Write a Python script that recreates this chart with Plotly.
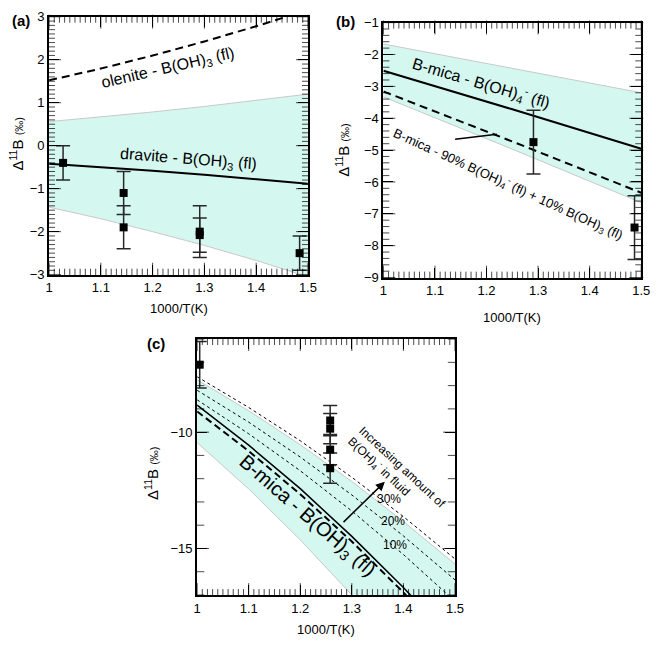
import plotly.graph_objects as go

# ---------------- data ----------------
x_grid = [1.0, 1.1, 1.2, 1.3, 1.4, 1.5]

# panel (a)
a_band_upper = [0.56, 0.67, 0.785, 0.913, 1.05, 1.2]
a_band_lower = [-1.43, -1.70, -2.0, -2.32, -2.67, -3.05]
a_dravite = [-0.42, -0.498, -0.584, -0.677, -0.778, -0.886]
a_olenite = [1.52, 1.795, 2.097, 2.425, 2.779, 3.159]
a_pts_x = [1.027, 1.144, 1.144, 1.291, 1.291, 1.484]
a_pts_y = [-0.4, -1.1, -1.9, -2.0, -2.08, -2.5]
a_pts_err = [0.4, 0.5, 0.5, 0.6, 0.4, 0.4]

# panel (b)
b_grid = [1.0, 1.25, 1.5]
b_band_upper = [-1.67, -2.43, -3.2]
b_band_lower = [-3.33, -4.97, -6.65]
b_solid = [-2.51, -3.72, -4.96]
b_dashed = [-3.16, -4.73, -6.34]
b_pts_x = [1.291, 1.487]
b_pts_y = [-4.75, -7.43]
b_pts_err = [1.0, 1.0]

# panel (c)
c_band_upper = [-7.75, -9.08, -10.54, -12.12, -13.84, -15.67]
c_band_lower = [-10.45, -12.44, -14.63, -17.0, -19.56, -22.31]
c_solid = [-8.84, -10.56, -12.43, -14.48, -16.68, -19.05]
c_dashed = [-9.11, -10.81, -12.67, -14.70, -16.89, -19.24]
c_10 = [-8.61, -10.07, -11.66, -13.39, -15.26, -17.27]
c_20 = [-8.2, -9.57, -11.07, -12.70, -14.46, -16.35]
c_30 = [-7.62, -8.94, -10.37, -11.94, -13.63, -15.45]
c_pts_x = [1.005, 1.258, 1.258, 1.258, 1.258]
c_pts_y = [-7.1, -9.5, -9.85, -10.75, -11.55]
c_pts_err = [1.0, 0.65, 0.65, 0.65, 0.65]

# ---------------- styling ----------------
W, H = 662, 645
FONT = "Liberation Sans, Arial, sans-serif"
FILL = "rgba(212,247,239,1)"
EDGE = "rgb(200,200,200)"

# subplot frames in pixels (left, right, top, bottom)
A_PX = (46, 310, 10, 274)
B_PX = (387, 650, 16, 277)
C_PX = (197, 460, 340, 602)
X_RANGE = [1.0, 1.5]
A_YR = [-3, 3]
B_YR = [-9, -1]
C_YR = [-17, -6]


def px(x):
    return x / W


def py(y):
    return 1 - y / H


fig = go.Figure()


def band(xs, lo, up, xa, ya):
    fig.add_trace(go.Scatter(x=xs, y=lo, mode="lines", line=dict(color=EDGE, width=1),
                             xaxis=xa, yaxis=ya, showlegend=False, hoverinfo="skip"))
    fig.add_trace(go.Scatter(x=xs, y=up, mode="lines", line=dict(color=EDGE, width=1),
                             fill="tonexty", fillcolor=FILL,
                             xaxis=xa, yaxis=ya, showlegend=False, hoverinfo="skip"))


def line(xs, ys, xa, ya, dash="solid", width=2):
    fig.add_trace(go.Scatter(x=xs, y=ys, mode="lines", line=dict(color="black", width=width, dash=dash),
                             xaxis=xa, yaxis=ya, showlegend=False, hoverinfo="skip"))


def points(xs, ys, errs, xa, ya):
    fig.add_trace(go.Scatter(x=xs, y=ys, mode="markers",
                             marker=dict(symbol="square", size=8, color="black"),
                             error_y=dict(type="data", array=errs, visible=True, color="rgb(40,40,40)",
                                          thickness=1.5, width=7),
                             xaxis=xa, yaxis=ya, showlegend=False, cliponaxis=False))


def steps(lo, hi, step):
    n = int(round((hi - lo) / step))
    return [lo + i * step for i in range(n + 1)]


def is_mult(v, m):
    q = v / m
    return abs(q - round(q)) < 1e-6


def tick_markers(xa, ya, frame, xr, yr, xminor, xmajor, yminor, ymajor, ymin_len=5):
    """Inside tick marks on all four sides, drawn as line markers (lengths in pixels)."""
    l, r, t, b = frame
    ux = (xr[1] - xr[0]) / (r - l)
    uy = (yr[1] - yr[0]) / (b - t)
    vx, vy, vs = [], [], []
    for v in steps(xr[0], xr[1], xminor):
        L = 10 if is_mult(v, xmajor) else 5
        vx += [v, v]
        vy += [yr[0] + L / 2 * uy, yr[1] - L / 2 * uy]
        vs += [L, L]
    fig.add_trace(go.Scatter(x=vx, y=vy, mode="markers", xaxis=xa, yaxis=ya, showlegend=False,
                             hoverinfo="skip", cliponaxis=False,
                             marker=dict(symbol="line-ns", size=vs, color="black",
                                         line=dict(width=1, color="black"))))
    hx, hy, hs = [], [], []
    for v in steps(yr[0], yr[1], yminor):
        L = 10 if is_mult(v, ymajor) else ymin_len
        hx += [xr[0] + L / 2 * ux, xr[1] - L / 2 * ux]
        hy += [v, v]
        hs += [L, L]
    fig.add_trace(go.Scatter(x=hx, y=hy, mode="markers", xaxis=xa, yaxis=ya, showlegend=False,
                             hoverinfo="skip", cliponaxis=False,
                             marker=dict(symbol="line-ew", size=hs, color="black",
                                         line=dict(width=1, color="black"))))


# panel a
band(x_grid, a_band_lower, a_band_upper, "x", "y")
line(x_grid, a_dravite, "x", "y")
line(x_grid, a_olenite, "x", "y", dash="8px,5px")
points(a_pts_x, a_pts_y, a_pts_err, "x", "y")
tick_markers("x", "y", A_PX, X_RANGE, A_YR, 0.01, 0.1, 0.1, 1)

# panel b
band(b_grid, b_band_lower, b_band_upper, "x2", "y2")
line(b_grid, b_solid, "x2", "y2")
line(b_grid, b_dashed, "x2", "y2", dash="8px,5px")
points(b_pts_x, b_pts_y, b_pts_err, "x2", "y2")
tick_markers("x2", "y2", B_PX, X_RANGE, B_YR, 0.01, 0.1, 0.2, 1)

# panel c
band(x_grid, c_band_lower, c_band_upper, "x3", "y3")
line(x_grid, c_30, "x3", "y3", dash="dot", width=1)
line(x_grid, c_20, "x3", "y3", dash="dot", width=1)
line(x_grid, c_10, "x3", "y3", dash="dot", width=1)
line(x_grid, c_solid, "x3", "y3", width=1.5)
line(x_grid, c_dashed, "x3", "y3", dash="7px,4px", width=2)
points(c_pts_x, c_pts_y, c_pts_err, "x3", "y3")
tick_markers("x3", "y3", C_PX, X_RANGE, C_YR, 0.01, 0.1, 1, 5, 6)


def xaxis(frame, anchor):
    return dict(domain=[px(frame[0]), px(frame[1])], anchor=anchor, range=X_RANGE, tickmode="linear",
                tick0=1.0, dtick=0.1, ticks="inside", ticklen=10, tickcolor="black", tickwidth=1,
                showline=True, linecolor="black", linewidth=2,
                mirror="ticks", showgrid=False, zeroline=False,
                tickfont=dict(family=FONT, size=13, color="black"))


def yaxis(frame, anchor, rng, dt):
    return dict(domain=[py(frame[3]), py(frame[2])], anchor=anchor, range=rng, tickmode="linear",
                tick0=0, dtick=dt, ticks="inside", ticklen=10, tickcolor="black", tickwidth=1,
                showline=True, linecolor="black", linewidth=2,
                mirror="ticks", showgrid=False, zeroline=False,
                tickfont=dict(family=FONT, size=13, color="black"))


fig.update_layout(
    width=W, height=H, margin=dict(l=0, r=0, t=0, b=0),
    paper_bgcolor="white", plot_bgcolor="white", showlegend=False,
    font=dict(family=FONT, color="black"),
    xaxis=xaxis(A_PX, "y"), yaxis=yaxis(A_PX, "x", A_YR, 1),
    xaxis2=xaxis(B_PX, "y2"), yaxis2=yaxis(B_PX, "x2", B_YR, 1),
    xaxis3=xaxis(C_PX, "y3"), yaxis3=yaxis(C_PX, "x3", C_YR, 5),
)

ann = []


def paper_text(x, y, text, size=13, angle=0, bold=False):
    ann.append(dict(x=px(x), y=py(y), xref="paper", yref="paper", text=("<b>%s</b>" % text) if bold else text,
                    showarrow=False, textangle=angle, font=dict(family=FONT, size=size, color="black"),
                    xanchor="center", yanchor="middle"))


ytitle = "Δ<sup>11</sup>B <span style='font-size:11px'>(‰)</span>"
paper_text(178, 309, "1000/T(K)", 13)
paper_text(518, 318, "1000/T(K)", 13)
paper_text(328, 637, "1000/T(K)", 13)
paper_text(13, 140, ytitle, 15, -90)
paper_text(345, 147, ytitle, 15, -90)
paper_text(151, 478, ytitle, 15, -90)
paper_text(17, 14, "(a)", 15, bold=True)
paper_text(348, 15, "(b)", 15, bold=True)
paper_text(155, 345, "(c)", 15, bold=True)

# in-plot labels
paper_text(167, 63, "olenite - B(OH)<sub>3</sub> (fl)", 16, -13)
paper_text(188, 156, "dravite - B(OH)<sub>3</sub> (fl)", 16, 4.5)
paper_text(487, 78, "B-mica - B(OH)<sub>4</sub><sup>-</sup> (fl)", 16, 16.5)
paper_text(514, 181, "B-mica - 90% B(OH)<sub>4</sub><sup>-</sup> (fl) + 10% B(OH)<sub>3</sub> (fl)", 13, 24.5)
paper_text(309, 522, "B-mica - B(OH)<sub>3</sub> (fl)", 20, 41)
paper_text(406, 471, "Increasing amount of", 12, 43)
paper_text(383, 471, "B(OH)<sub>4</sub><sup>-</sup> in fluid", 12, 43)

for xv, yv, t in [(1.373, -12.86, "30%"), (1.38, -13.83, "20%"), (1.383, -14.83, "10%")]:
    ann.append(dict(x=xv, y=yv, xref="x3", yref="y3", text=t, showarrow=False,
                    font=dict(family=FONT, size=12, color="black")))

# arrow in panel c
ann.append(dict(x=1.364, y=-12.13, ax=1.281, ay=-13.93, xref="x3", yref="y3", axref="x3", ayref="y3",
                text="", showarrow=True, arrowhead=2, arrowsize=1.2, arrowwidth=1.5, arrowcolor="black"))

fig.update_layout(annotations=ann)

# pointer line in panel b
fig.add_shape(type="line", xref="x2", yref="y2", x0=1.139, y0=-4.66, x1=1.22, y1=-4.5,
              line=dict(color="black", width=1.5))

fig.write_html("out.html", config={"displayModeBar": False},
               post_script="document.body.style.margin='0';")
